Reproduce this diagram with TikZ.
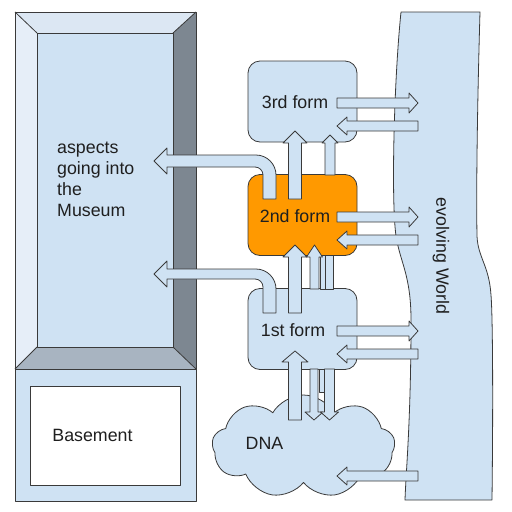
\documentclass[tikz,border=0pt]{standalone}
\usepackage{fontspec}
\setmainfont{Liberation Sans}
\usetikzlibrary{calc,shapes.symbols}
\definecolor{lb}{HTML}{CFE2F3}
\definecolor{ln}{HTML}{3A3A3A}
\definecolor{orng}{HTML}{FF9900}
\definecolor{bvtop}{HTML}{DCE7F3}
\definecolor{bvleft}{HTML}{E6EEF8}
\definecolor{bvright}{HTML}{7D8791}
\definecolor{bvbot}{HTML}{A8B4C1}
\definecolor{txt}{HTML}{1F1F1F}
\tikzset{
  shapeline/.style={draw=ln, line width=0.8pt, line join=round},
  blockarrow/.style={shapeline, fill=lb},
  formbox/.style={shapeline, rounded corners=12pt, minimum width=109pt, minimum height=81pt, inner sep=0pt},
  lbl/.style={inner sep=0pt},
  every node/.append style={font=\fontsize{17.8}{21}\selectfont, text=txt}
}
% block arrow: tail, tip, shaft half width, head half width, head length
\newcommand\barrow[5]{%
  \coordinate (batail) at (#1);
  \coordinate (batip) at (#2);
  \coordinate (babase) at ($(batip)!#5pt!(batail)$);
  \draw[blockarrow] ($(batail)!#3pt!90:(batip)$) -- ($(babase)!#3pt!90:(batip)$)
    -- ($(babase)!#4pt!90:(batip)$) -- (batip) -- ($(babase)!#4pt!-90:(batip)$)
    -- ($(babase)!#3pt!-90:(batip)$) -- ($(batail)!#3pt!-90:(batip)$) -- cycle;}
\begin{document}
\begin{tikzpicture}[x=1pt, y=-1pt]
\useasboundingbox (0,0) rectangle (512,512);

% evolving world
\draw[shapeline, fill=lb] (401,12) .. controls (394,80) and (391,200) .. (396,236)
  .. controls (400,262) and (411,275) .. (411,320)
  .. controls (411,420) and (406,470) .. (405,500) -- (492,500)
  .. controls (493,420) and (493,320) .. (491,295)
  .. controls (489,265) and (478,258) .. (477,236)
  .. controls (476,180) and (478,80) .. (480,12) -- cycle;
\node[lbl, rotate=-90] (world) at (441,256) {evolving World};

% museum (bevel)
\fill[bvtop] (15,12) -- (196,12) -- (173,33) -- (37,33) -- cycle;
\fill[bvleft] (15,12) -- (37,33) -- (37,347) -- (15,369) -- cycle;
\fill[bvright] (196,12) -- (196,369) -- (173,347) -- (173,33) -- cycle;
\fill[bvbot] (15,369) -- (37,347) -- (173,347) -- (196,369) -- cycle;
\draw[shapeline, fill=lb] (37,33) rectangle (173,347);
\draw[shapeline] (15,12) rectangle (196,369);
\draw[shapeline] (15,12) -- (37,33) (196,12) -- (173,33) (15,369) -- (37,347) (196,369) -- (173,347);
\node[lbl, align=left, anchor=west] (museum) at (57,179.5) {aspects\\going into\\the\\Museum};

% basement
\draw[shapeline, fill=lb] (15,369) rectangle (196,501);
\draw[shapeline, fill=white] (30,386) rectangle (180,485);
\node[lbl] (basement) at (92.5,435) {Basement};

% DNA cloud
\node[cloud, cloud puffs=9, cloud puff arc=120, aspect=1.8, shapeline, fill=lb,
  minimum width=183pt, minimum height=103pt, inner sep=0pt] (dna) at (303.5,446.5) {};
\node[lbl] (dnat) at (264.5,443) {DNA};

% forms
\node[formbox, fill=lb] (f3) at (302.5,101.5) {};
\node[formbox, fill=orng] (f2) at (302.5,215) {};
\node[formbox, fill=lb] (f1) at (302.5,329) {};
\node[lbl] (f3t) at (295,102) {3rd form};
\node[lbl] (f2t) at (295,216) {2nd form};
\node[lbl] (f1t) at (293,330) {1st form};

% bent arrows into the museum
\draw[blockarrow] (276,199) -- (276,175) .. controls (276,164) and (267,155) .. (256,155)
  -- (167,155) -- (167,148) -- (154,161) -- (167,174) -- (167,167) -- (255,167)
  .. controls (259.4,167) and (263,170.6) .. (263,175) -- (263,199) -- cycle;
\draw[blockarrow] (276,313) -- (276,289) .. controls (276,278) and (267,269) .. (256,269)
  -- (167,269) -- (167,261) -- (154,274) -- (167,287) -- (167,279) -- (255,279)
  .. controls (259.4,279) and (263,282.6) .. (263,287) -- (263,313) -- cycle;

% vertical arrows 2nd -> 3rd
\barrow{295,199}{295,131}{6.5}{12}{12}
\barrow{330,175}{330,135}{5}{8}{8}
% vertical arrows 1st -> 2nd
\draw[blockarrow] (320,255) rectangle (325,289);
\draw[blockarrow] (325,255) rectangle (333,289);
\barrow{295,313}{295,245}{6.5}{12}{12}
\barrow{314.5,289}{314.5,245}{4.5}{8}{12}
% DNA <-> 1st
\barrow{295,420}{295,351}{6.5}{13}{11}
\draw[blockarrow] (319,369) rectangle (325,392);
\barrow{314,369}{314,420}{4}{9}{8}
\barrow{329.5,369}{329.5,420}{5}{9}{8}

% horizontal arrows with the world
\barrow{337,103}{418,103}{5}{10}{9}
\barrow{418,126}{337,126}{5}{9}{10}
\barrow{337,217}{418,217}{5}{10}{9}
\barrow{418,240}{337,240}{5}{9}{10}
\barrow{337,331}{418,331}{5}{10}{9}
\barrow{418,354}{337,354}{5}{9}{10}
\barrow{418,476}{337,476}{5}{9}{10}
\end{tikzpicture}
\end{document}
